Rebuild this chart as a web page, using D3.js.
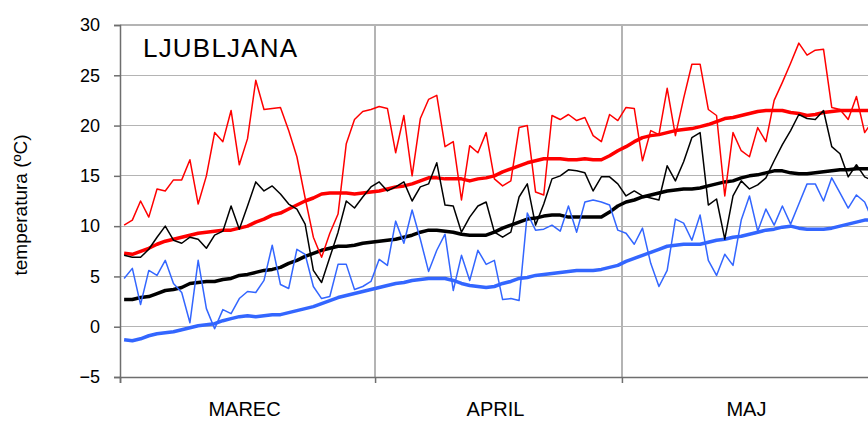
<!DOCTYPE html>
<html>
<head>
<meta charset="utf-8">
<script src="https://cdn.jsdelivr.net/npm/d3@7"></script>
<style>
  html, body { margin: 0; padding: 0; background: #fff; }
  svg { display: block; font-family: "Liberation Sans", Arial, sans-serif; }
</style>
</head>
<body>
<svg id="chart" width="868" height="421"></svg>
<script>
// ---- DATA ----
const title = "LJUBLJANA";
const yLabel = "temperatura (ºC)";
const months = ["MAREC", "APRIL", "MAJ"];
const monthDays = [31, 30, 31];
const yTicks = [-5, 0, 5, 10, 15, 20, 25, 30];

// daily maximum (thin red)
const maxDaily = [10.1,10.6,12.5,10.9,13.7,13.5,14.6,14.6,16.6,12.2,15.0,19.3,18.4,21.5,16.1,18.7,
  24.5,21.6,21.7,21.8,19.5,16.9,12.8,8.9,6.9,9.3,11.2,18.2,20.6,21.4,21.6,21.9,
  21.7,17.3,21.0,15.0,20.7,22.6,23.0,17.9,18.4,12.6,18.0,17.3,19.3,14.7,14.0,14.5,
  19.8,20.0,13.4,13.1,21.0,20.6,21.1,20.5,20.8,19.0,18.4,21.1,20.5,21.8,21.7,16.5,
  19.5,19.1,23.7,19.0,22.7,26.1,26.1,21.6,21.0,13.0,19.3,17.5,16.9,19.8,18.4,22.5,
  24.3,26.2,28.2,27.0,27.5,27.6,21.8,21.6,20.6,22.9,19.3,20.5];
// long-term average maximum (thick red)
const maxAvg = [7.3,7.2,7.5,7.8,8.2,8.5,8.7,8.9,9.1,9.3,9.4,9.5,9.6,9.6,9.8,10.0,
  10.4,10.7,11.1,11.3,11.7,12.1,12.5,12.8,13.2,13.3,13.3,13.3,13.2,13.3,13.4,13.5,
  13.7,13.9,14.0,14.2,14.5,14.8,14.8,14.7,14.7,14.7,14.5,14.7,14.8,15.0,15.4,15.7,
  16.0,16.3,16.5,16.7,16.7,16.7,16.6,16.6,16.7,16.6,16.6,17.0,17.5,17.9,18.4,18.8,
  19.0,19.1,19.3,19.5,19.6,19.7,19.9,20.1,20.4,20.7,20.8,21.0,21.2,21.4,21.5,21.5,
  21.5,21.3,21.2,21.0,21.1,21.3,21.4,21.5,21.5,21.5,21.5,21.5];
// daily mean (thin black)
const meanDaily = [7.1,6.9,6.9,7.7,8.9,10.0,8.6,8.3,8.9,8.7,7.8,9.1,9.5,12.0,9.7,12.0,
  14.4,13.5,14.0,13.2,12.2,11.7,10.2,5.6,4.4,6.9,9.4,12.5,11.8,12.9,13.9,14.4,
  13.5,13.9,14.4,12.5,13.9,14.2,16.3,12.1,12.0,9.4,10.9,12.0,12.4,9.4,8.9,9.4,
  12.9,14.2,10.1,12.2,14.7,15.0,15.6,15.5,15.3,13.5,14.9,14.9,14.2,13.0,13.5,13.0,
  12.8,12.6,16.0,14.5,16.4,18.8,19.3,12.1,12.7,8.7,13.0,14.5,13.7,14.1,14.8,16.5,
  18.1,19.5,21.1,20.7,20.6,21.5,17.9,17.2,14.9,16.1,14.9,14.5];
// long-term average mean (thick black)
const meanAvg = [2.7,2.7,2.9,3.0,3.3,3.6,3.7,3.9,4.3,4.4,4.5,4.5,4.7,4.8,5.1,5.2,
  5.4,5.6,5.7,5.9,6.3,6.6,7.0,7.3,7.6,7.8,8.0,8.0,8.1,8.3,8.4,8.5,
  8.6,8.7,8.9,9.1,9.4,9.6,9.6,9.5,9.4,9.2,9.1,9.1,9.1,9.4,9.8,10.1,
  10.4,10.7,10.8,11.0,11.1,11.1,10.9,10.9,10.9,10.9,10.9,11.4,12.0,12.4,12.6,12.9,
  13.1,13.3,13.5,13.6,13.7,13.7,13.8,14.0,14.2,14.4,14.5,14.8,15.0,15.1,15.3,15.5,
  15.5,15.3,15.2,15.2,15.3,15.4,15.5,15.6,15.6,15.7,15.7,15.7];
// daily minimum (thin blue)
const minDaily = [4.8,5.8,2.2,5.6,5.1,6.6,4.3,3.4,0.4,6.6,1.8,-0.2,1.7,1.3,2.8,3.5,
  3.4,4.6,8.1,4.2,3.8,7.7,7.2,4.0,2.8,3.0,6.2,6.2,3.7,4.0,4.5,6.7,
  6.1,10.5,8.3,11.6,8.7,5.5,7.6,9.2,3.6,7.1,4.6,7.6,6.2,6.6,2.7,2.8,
  2.6,11.3,9.6,9.7,10.1,9.5,12.0,9.4,12.4,12.6,12.4,12.1,9.6,9.3,8.2,9.8,
  6.3,4.0,5.6,10.7,10.3,8.6,11.1,6.6,5.1,7.2,6.1,10.6,13.0,9.5,11.7,10.1,
  12.0,10.2,12.2,14.2,14.2,12.5,14.8,13.3,11.8,13.1,12.4,10.5];
// long-term average minimum (thick blue)
const minAvg = [-1.3,-1.4,-1.2,-0.9,-0.7,-0.6,-0.5,-0.3,-0.1,0.1,0.2,0.3,0.6,0.8,1.0,1.1,
  1.0,1.1,1.2,1.2,1.4,1.6,1.8,2.0,2.3,2.6,2.9,3.1,3.3,3.5,3.7,3.9,
  4.1,4.3,4.4,4.6,4.7,4.8,4.8,4.8,4.6,4.3,4.1,4.0,3.9,4.0,4.3,4.5,
  4.8,4.9,5.1,5.2,5.3,5.4,5.5,5.6,5.6,5.6,5.7,5.9,6.1,6.5,6.8,7.1,
  7.4,7.7,8.0,8.1,8.2,8.2,8.2,8.4,8.6,8.7,8.9,9.0,9.2,9.4,9.6,9.7,
  9.9,10.0,9.8,9.7,9.7,9.7,9.8,10.0,10.2,10.4,10.6,10.6];

// ---- CHART ----
const svg = d3.select("#chart");
const W = 868, H = 421;
const mLeft = 120, mRight = 877, mTop = 25, mBottom = 377;
const nDays = d3.sum(monthDays);

const x = d3.scaleLinear().domain([0, nDays]).range([mLeft, mRight]);
const y = d3.scaleLinear().domain([-5, 30]).range([mBottom, mTop]);

const monthStarts = [];
let acc = 0;
monthDays.forEach(d => { monthStarts.push(acc); acc += d; });
monthStarts.push(acc);

// horizontal gridlines
svg.append("g").selectAll("line").data(yTicks.filter(t => t !== -5)).join("line")
  .attr("x1", mLeft).attr("x2", W)
  .attr("y1", d => y(d)).attr("y2", d => y(d))
  .attr("stroke", "#b4b4b4").attr("stroke-width", 1.2).attr("shape-rendering", "crispEdges");

// vertical gridlines at month boundaries
svg.append("g").selectAll("line").data(monthStarts.slice(1, -1)).join("line")
  .attr("x1", d => x(d)).attr("x2", d => x(d))
  .attr("y1", mTop).attr("y2", mBottom)
  .attr("stroke", "#b4b4b4").attr("stroke-width", 1.2).attr("shape-rendering", "crispEdges");

// Y axis
const yAxis = d3.axisLeft(y).tickValues(yTicks).tickSize(6).tickPadding(14).tickFormat(d3.format("d"));
const gy = svg.append("g").attr("transform", `translate(${mLeft},0)`).call(yAxis);
gy.select(".domain").attr("stroke", "#6e6e6e").attr("stroke-width", 1.5);
gy.selectAll(".tick line").attr("stroke", "#6e6e6e").attr("stroke-width", 1.5);
gy.selectAll("text").attr("font-size", 18).attr("fill", "#000")
  .attr("font-family", "Liberation Sans, Arial, sans-serif");

// X axis (month boundaries as ticks, labels centred in month)
const xAxis = d3.axisBottom(x).tickValues(monthStarts).tickSize(6).tickFormat("");
const gx = svg.append("g").attr("transform", `translate(0,${mBottom})`).call(xAxis);
gx.select(".domain").attr("stroke", "#6e6e6e").attr("stroke-width", 1.5);
gx.selectAll(".tick line").attr("stroke", "#6e6e6e").attr("stroke-width", 1.5);

svg.append("g").selectAll("text").data(months).join("text")
  .attr("x", (d, i) => x((monthStarts[i] + monthStarts[i + 1]) / 2) - 3)
  .attr("y", 416)
  .attr("text-anchor", "middle")
  .attr("font-size", 20)
  .text(d => d);

// Y label
svg.append("text")
  .attr("transform", `translate(27,205) rotate(-90)`)
  .attr("text-anchor", "middle")
  .attr("font-size", 19)
  .text(yLabel);

// Title
svg.append("text")
  .attr("x", 143).attr("y", 57)
  .attr("font-size", 26)
  .attr("letter-spacing", 1.2)
  .text(title);

// lines
const line = d3.line().x((d, i) => x(i + 0.5)).y(d => y(d));
const series = [
  { data: meanAvg, color: "#000000", w: 3.5 },
  { data: minAvg, color: "#3366ff", w: 3.5 },
  { data: maxAvg, color: "#ff0000", w: 3.5 },
  { data: meanDaily, color: "#000000", w: 1.5 },
  { data: minDaily, color: "#3366ff", w: 1.5 },
  { data: maxDaily, color: "#ff0000", w: 1.5 }
];
svg.append("g").selectAll("path").data(series).join("path")
  .attr("d", d => line(d.data))
  .attr("fill", "none")
  .attr("stroke", d => d.color)
  .attr("stroke-width", d => d.w)
  .attr("stroke-linejoin", "round");
</script>
</body>
</html>
